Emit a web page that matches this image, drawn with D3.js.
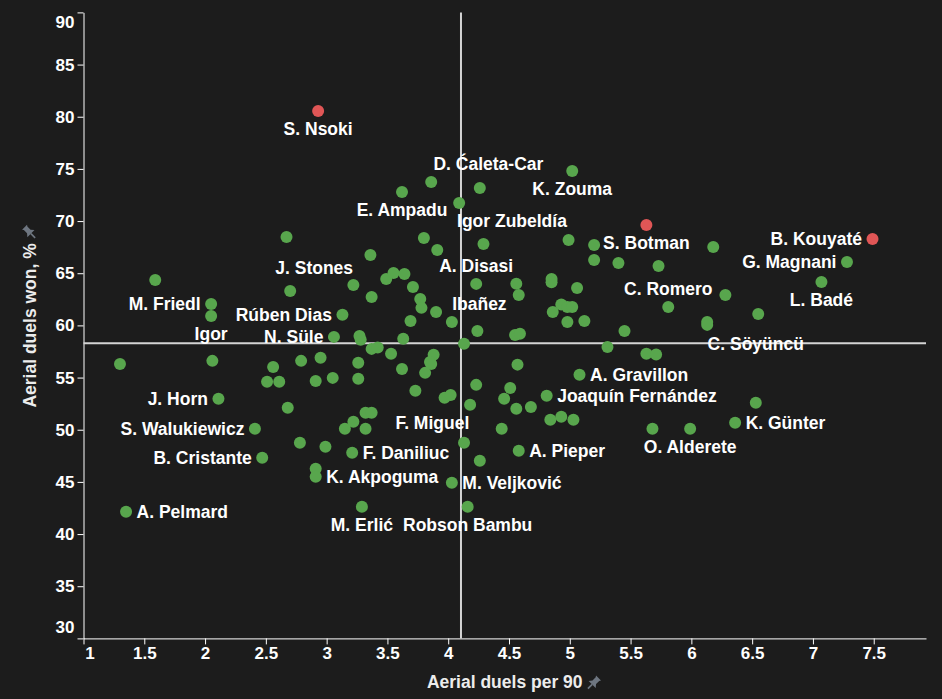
<!DOCTYPE html>
<html>
<head>
<meta charset="utf-8">
<script src="https://cdn.jsdelivr.net/npm/d3@7"></script>
<style>
  html, body { margin: 0; padding: 0; background: #1c1c1c; }
  svg { display: block; background: #1c1c1c; }
  text { font-family: "Liberation Sans", Arial, sans-serif; font-weight: bold; }
</style>
</head>
<body>
<svg id="graph"></svg>
<script>
var svg = d3.select("#graph");
var width = 942;
var height = 699;
svg.attr("width", width).attr("height", height);

// players (empty name = not labelled)
var playerNames = ["S. Nsoki", "", "E. Ampadu", "D. Ćaleta-Car", "", "", "", "Igor Zubeldía", "", "",
  "", "J. Stones", "", "", "", "", "", "", "", "",
  "", "A. Disasi", "", "", "M. Friedl", "Igor", "Rúben Dias", "", "", "Ibañez",
  "", "", "N. Süle", "", "", "", "", "", "", "",
  "", "", "", "", "", "", "", "", "", "",
  "", "", "", "", "", "Joaquín Fernández", "", "", "", "A. Gravillon",
  "A. Pieper", "F. Miguel", "", "M. Veljković", "Robson Bambu", "M. Erlić", "A. Pelmard", "", "", "",
  "", "", "", "", "", "", "", "", "", "J. Horn",
  "", "S. Walukiewicz", "", "", "", "", "", "", "", "F. Daniliuc",
  "B. Cristante", "", "K. Akpoguma", "K. Zouma", "S. Botman", "B. Kouyaté", "", "", "", "",
  "", "", "G. Magnani", "L. Badé", "", "", "", "", "C. Romero", "C. Söyüncü",
  "", "", "", "", "", "", "", "", "", "",
  "", "", "", "O. Alderete", "K. Günter", ""];

var aerialPer90 = [2.93, 3.86, 3.62, 4.26, 4.09, 2.67, 3.80, 4.29, 3.91, 3.36,
  1.59, 2.70, 3.22, 3.49, 3.55, 3.64, 3.71, 3.37, 3.77, 3.78,
  3.90, 4.23, 4.56, 4.58, 2.05, 2.05, 3.13, 3.69, 4.03, 4.24,
  4.55, 4.59, 3.06, 3.27, 3.28, 3.63, 4.13, 3.37, 3.42, 3.53,
  3.88, 3.85, 3.86, 3.81, 3.73, 3.97, 4.02, 4.23, 4.18, 4.46,
  4.44, 4.51, 4.57, 4.56, 4.68, 4.81, 4.84, 4.93, 5.03, 5.08,
  4.58, 4.13, 4.26, 4.03, 4.16, 3.29, 1.35, 1.30, 2.06, 2.56,
  2.51, 2.61, 2.79, 2.95, 2.91, 3.05, 3.26, 3.26, 3.62, 2.11,
  2.68, 2.41, 3.32, 3.37, 3.22, 3.15, 3.32, 2.78, 2.99, 3.21,
  2.47, 2.91, 2.91, 5.02, 5.63, 7.49, 4.99, 5.20, 6.18, 5.20,
  5.40, 5.73, 7.28, 7.07, 4.85, 4.85, 5.06, 6.28, 5.81, 6.55,
  4.93, 4.98, 5.02, 4.86, 4.98, 5.12, 5.45, 6.13, 6.13, 5.31,
  5.63, 5.71, 5.68, 5.99, 6.36, 6.53];

var aerialWonPct = [80.55, 73.74, 72.79, 73.17, 71.73, 68.48, 68.38, 67.81, 67.23, 66.75,
  64.36, 63.30, 63.88, 64.45, 65.03, 64.93, 63.69, 62.73, 62.54, 61.68,
  61.29, 63.98, 63.99, 62.92, 62.06, 60.91, 61.01, 60.43, 60.33, 59.47,
  59.09, 59.20, 58.90, 58.99, 58.63, 58.71, 58.23, 57.75, 57.88, 57.29,
  57.19, 56.50, 56.31, 55.45, 53.73, 53.06, 53.34, 54.30, 52.39, 52.96,
  50.09, 54.01, 56.24, 52.00, 52.19, 53.25, 50.95, 51.24, 50.95, 55.26,
  47.98, 48.75, 47.02, 44.91, 42.61, 42.61, 42.14, 56.31, 56.60, 56.02,
  54.59, 54.59, 56.60, 56.89, 54.68, 54.97, 56.41, 54.88, 55.83, 52.96,
  52.10, 50.09, 51.62, 51.62, 50.76, 50.09, 50.09, 48.75, 48.36, 47.79,
  47.31, 46.25, 45.49, 74.80, 69.63, 68.29, 68.19, 67.71, 67.52, 66.27,
  65.99, 65.70, 66.08, 64.17, 64.45, 64.14, 63.59, 62.92, 61.77, 61.10,
  62.00, 61.77, 61.77, 61.29, 60.33, 60.43, 59.47, 60.33, 60.05, 57.94,
  57.29, 57.21, 50.09, 50.09, 50.66, 52.58];

var highlighted = ["S. Nsoki", "S. Botman", "B. Kouyaté"];

// average lines
var avgPer90 = 4.105;
var avgWonPct = 58.3;

var xTicks = [1, 1.5, 2, 2.5, 3, 3.5, 4, 4.5, 5, 5.5, 6, 6.5, 7, 7.5];
var yTicks = [30, 35, 40, 45, 50, 55, 60, 65, 70, 75, 80, 85, 90];

var xTitle = "Aerial duels per 90";
var yTitle = "Aerial duels won, %";

// where each label sits relative to its dot
var below = ["middle", 0, 24.5], above = ["middle", 0, -11.8];
var left = ["end", -10.5, 6.2], right = ["start", 10.5, 6.2];
var labelSpots = {
  "S. Nsoki": below, "E. Ampadu": below, "K. Zouma": below, "S. Botman": below, "Igor": below,
  "L. Badé": below, "O. Alderete": below, "M. Erlić": below, "Robson Bambu": below,
  "A. Disasi": above, "C. Romero": above,
  "B. Kouyaté": left, "G. Magnani": left, "M. Friedl": left, "Rúben Dias": left, "N. Süle": left,
  "J. Horn": left, "S. Walukiewicz": left, "B. Cristante": left,
  "A. Gravillon": right, "Joaquín Fernández": right, "K. Günter": right, "F. Daniliuc": right,
  "A. Pieper": right, "K. Akpoguma": right, "M. Veljković": right, "A. Pelmard": right,
  "D. Ćaleta-Car": ["middle", 8.6, -18.4], "Igor Zubeldía": ["middle", 28.5, -16.7],
  "J. Stones": ["middle", 24, -17.4], "Ibañez": ["middle", 2, -20.7],
  "C. Söyüncü": ["middle", -2.5, 35.6], "F. Miguel": ["middle", -31.7, -13.7]
};

var x = d3.scaleLinear().domain([1, 7.93]).range([83.5, 926]);
var y = d3.scaleLinear().domain([30, 90]).range([638.4, 12.4]);

var players = playerNames.map(function(n, i) {
  return {name: n, x: aerialPer90[i], y: aerialWonPct[i]};
});

// axes
var xAxis = svg.append("g").attr("transform", "translate(0," + y(30) + ")")
  .call(d3.axisBottom(x).tickValues(xTicks).tickSizeOuter(0).tickFormat(d3.format("")));
var yAxis = svg.append("g").attr("transform", "translate(" + x(1) + ",0)")
  .call(d3.axisLeft(y).tickValues(yTicks).tickSizeOuter(0));

[xAxis, yAxis].forEach(function(a) {
  a.selectAll(".domain, line").attr("stroke", "#ffffff");
  a.selectAll("text").attr("fill", "#ffffff").style("font-size", "17px");
});
// end labels are nudged inward
xAxis.selectAll(".tick text").filter(function(d) { return d === 1; }).attr("dx", 6);
yAxis.selectAll(".tick text").filter(function(d) { return d === 90; }).attr("dy", "0.9em");
yAxis.selectAll(".tick text").filter(function(d) { return d === 30; }).attr("dy", "-0.33em");

// reference lines
svg.append("line").attr("x1", x(avgPer90)).attr("x2", x(avgPer90))
  .attr("y1", y(90)).attr("y2", y(30))
  .attr("stroke", "#d4d4d4").attr("stroke-width", 2);
svg.append("line").attr("x1", x(1)).attr("x2", x(7.93))
  .attr("y1", y(avgWonPct)).attr("y2", y(avgWonPct))
  .attr("stroke", "#d4d4d4").attr("stroke-width", 2);

// dots
svg.append("g").selectAll("circle").data(players).enter().append("circle")
  .attr("cx", function(d) { return x(d.x); })
  .attr("cy", function(d) { return y(d.y); })
  .attr("r", 6)
  .attr("fill", function(d) {
    return highlighted.indexOf(d.name) >= 0 ? "#e05656" : "#58a64d";
  });

// labels
svg.append("g").selectAll("text").data(players.filter(function(d) { return d.name; }))
  .enter().append("text")
  .attr("x", function(d) { return x(d.x) + labelSpots[d.name][1]; })
  .attr("y", function(d) { return y(d.y) + labelSpots[d.name][2]; })
  .attr("text-anchor", function(d) { return labelSpots[d.name][0]; })
  .attr("fill", "#ffffff")
  .style("font-size", "17.5px")
  .text(function(d) { return d.name; });

// pin glyph next to the axis titles
function pin(g, cx, cy, rot) {
  var p = g.append("g").attr("transform", "translate(" + cx + "," + cy + ") rotate(" + rot + ")");
  p.append("path").attr("d", "M-3.5,-7 L3.5,-7 L2.5,-5.5 L2.5,-1 L5,2 L-5,2 L-2.5,-1 L-2.5,-5.5 Z")
    .attr("fill", "#6e7681");
  p.append("path").attr("d", "M0,2 L0,8").attr("stroke", "#6e7681").attr("stroke-width", 1.6);
}

var xt = svg.append("text").attr("x", (x(1) + x(7.93)) / 2).attr("y", 688)
  .attr("text-anchor", "middle").attr("fill", "#ececec").style("font-size", "17.5px")
  .text(xTitle);
var xw = xt.node().getComputedTextLength();
pin(svg, (x(1) + x(7.93)) / 2 + xw / 2 + 11, 683, 45);

var midY = (y(30) + y(90)) / 2;
var yt = svg.append("text").attr("transform", "translate(35.5," + midY + ") rotate(-90)")
  .attr("text-anchor", "middle").attr("fill", "#ececec").style("font-size", "17.5px")
  .text(yTitle);
var yw = yt.node().getComputedTextLength();
pin(svg, 29.5, midY - yw / 2 - 11, -45);
</script>
</body>
</html>
